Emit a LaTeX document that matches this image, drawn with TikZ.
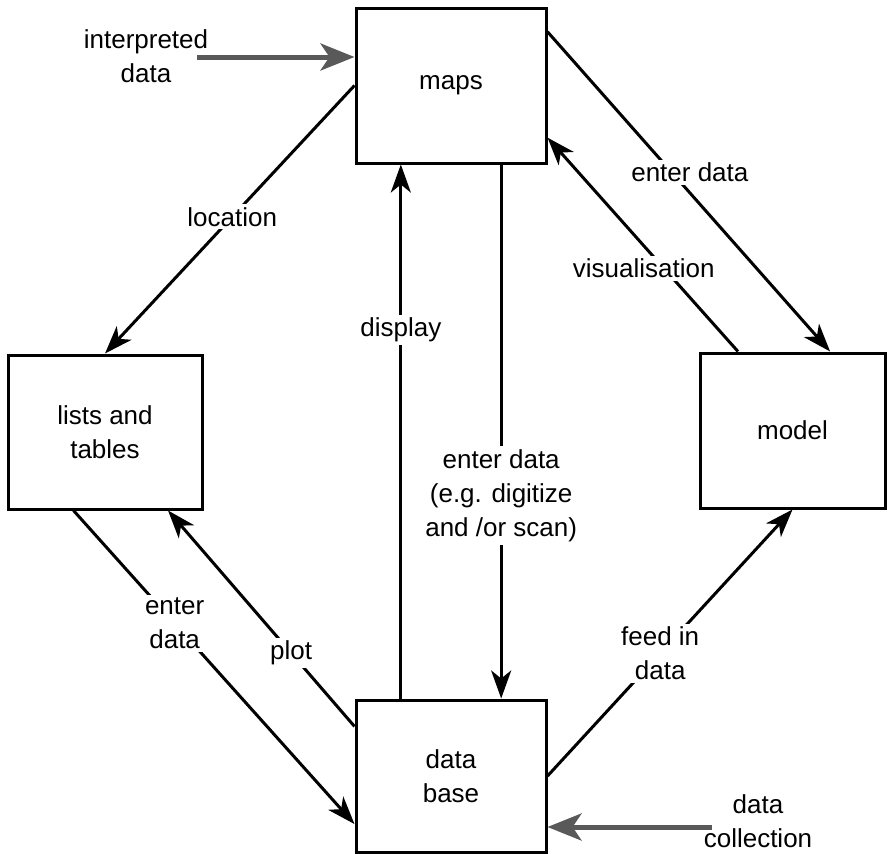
\documentclass[tikz,border=0pt]{standalone}
\usepackage{fontspec}
\setmainfont{Liberation Sans}
\usetikzlibrary{arrows.meta,calc}
\tikzset{>={Stealth[length=28pt,width=20pt,inset=8pt]},
  box/.style={draw,line width=3pt,align=center,inner sep=0pt},
  lbl/.style={fill=white,align=center,inner sep=3pt},
  flow/.style={->,line width=3pt},
  feed/.style={-{Stealth[length=34pt,width=27pt,inset=9pt]},line width=5pt,black!65}}

\begin{document}
\begin{tikzpicture}[x=1pt,y=-1pt,font=\fontsize{26}{34}\selectfont]
    \useasboundingbox (0,0) rectangle (887,854);
    % boxes
    \node[box,minimum width=190pt,minimum height=155pt] (maps) at (451,85.5) {maps};
    \node[box,minimum width=194pt,minimum height=154pt] (lists) at (105,432) {lists and\\tables};
    \node[box,minimum width=185pt,minimum height=155pt] (model) at (792.5,430.5) {model};
    \node[box,minimum width=190pt,minimum height=152pt] (db) at (451,776) {data\\base};
    % outside inputs
    \node[align=center] (interp) at (146,56) {interpreted\\data};
    \node[align=center,inner sep=1pt] (collect) at (758,821) {data\\collection};
    \coordinate (intail) at (197,57);
    \coordinate (coltail) at (712,827);
    \draw[feed] (intail) -- (intail -| maps.west);
    \draw[feed] (coltail) -- (coltail -| db.east);
    % maps and lists
    \draw[flow] (maps.west) -- (lists.north) node[lbl,pos=0.49] {location};
    \draw[flow] ($(lists.south west)!0.34!(lists.south east)$) --
      ($(db.north west)!0.81!(db.south west)$) node[lbl,pos=0.36] {enter\\data};
    \draw[flow] ($(db.north west)!0.18!(db.south west)$) --
      ($(lists.south west)!0.82!(lists.south east)$) node[lbl,pos=0.34] {plot};
    % maps and data base
    \coordinate (up) at ($(db.north west)!0.24!(db.north east)$);
    \coordinate (down) at ($(maps.south west)!0.76!(maps.south east)$);
    \draw[flow] (up) -- (up |- maps.south) node[lbl,pos=0.69] {display};
    \draw[flow] (down) -- (down |- db.north)
      node[lbl,pos=0.62] {enter data\\(e.g. digitize\\and /or scan)};
    % maps and model
    \draw[flow] ($(maps.north east)!0.16!(maps.south east)$) --
      ($(model.north west)!0.70!(model.north east)$)
      node[lbl,pos=0.44,xshift=18pt] {enter data};
    \draw[flow] ($(model.north west)!0.21!(model.north east)$) --
      ($(maps.north east)!0.83!(maps.south east)$)
      node[lbl,pos=0.39,xshift=-20pt] {visualisation};
    % data base and model
    \draw[flow] (db.east) -- (model.south) node[lbl,pos=0.46] {feed in\\data};
\end{tikzpicture}
\end{document}
